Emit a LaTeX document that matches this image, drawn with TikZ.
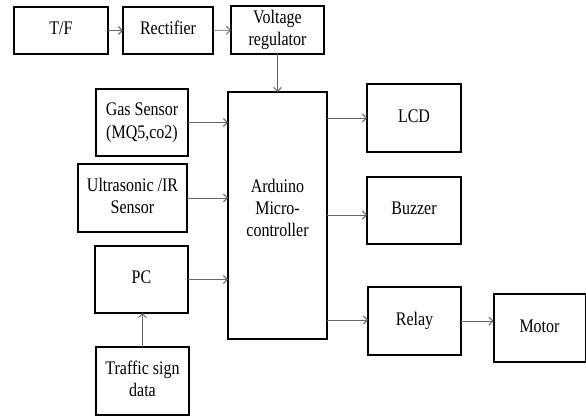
\documentclass[tikz,border=0pt]{standalone}
\usepackage{fontspec}
\newfontfamily\tms{LiberationSerif}[Extension=.ttf, UprightFont=*-Regular, BoldFont=*-Bold]
\usetikzlibrary{arrows.meta}
\newcommand\lbl[1]{\scalebox{1}[1.2]{\begin{tabular}{@{}c@{}}#1\end{tabular}}}
\tikzset{
  txt/.style={font=\tms\fontsize{16}{18.5}\selectfont},
  blk/.style={draw=black, line width=2pt, fill=white, inner sep=0pt, outer sep=0pt, txt},
  conn/.style={draw=black!60, line width=0.9pt, -{Straight Barb[length=4pt,width=8pt]}}
}
\begin{document}
\begin{tikzpicture}[x=1pt,y=1pt]
\useasboundingbox (0,0) rectangle (586,-417);
\node[blk, minimum width=94, minimum height=47] (tf) at (61,-30.5) {\lbl{T/F}};
\node[blk, minimum width=90, minimum height=47] (rect) at (168,-30.5) {\lbl{Rectifier}};
\node[blk, minimum width=93, minimum height=48] (vr) at (277.5,-30) {\lbl{Voltage\\regulator}};
\node[blk, minimum width=92, minimum height=67] (gas) at (142,-122.5) {\lbl{Gas Sensor\\(MQ5,co2)}};
\node[blk, minimum width=109, minimum height=68] (us) at (132.5,-198) {\lbl{Ultrasonic /IR\\Sensor}};
\node[blk, minimum width=93, minimum height=67] (pc) at (141.5,-279.5) {\lbl{PC}};
\node[blk, minimum width=93, minimum height=68] (td) at (142.5,-381) {\lbl{Traffic sign\\data}};
\node[blk, minimum width=99, minimum height=247] (ard) at (277.5,-215.5) {};
\node[txt] (ardt) at (277.5,-210) {\lbl{Arduino\\Micro-\\controller}};
\node[blk, minimum width=94, minimum height=68] (lcd) at (414,-118) {\lbl{LCD}};
\node[blk, minimum width=94, minimum height=67] (bz) at (414,-210.5) {\lbl{Buzzer}};
\node[blk, minimum width=93, minimum height=68] (rl) at (414.5,-321) {\lbl{Relay}};
\node[blk, minimum width=92, minimum height=68] (mt) at (539.5,-328) {\lbl{Motor}};
\draw[conn] (tf) -- (rect);
\draw[conn] (rect) -- (vr);
\draw[conn] (vr.south) -- (vr.south |- ard.north);
\draw[conn] (gas.east) -- (gas.east -| ard.west);
\draw[conn] (us.east) -- (us.east -| ard.west);
\draw[conn] (pc.east) -- (pc.east -| ard.west);
\draw[conn] (td.north) -- (td.north |- pc.south);
\draw[conn] (ard.east |- lcd.west) -- (lcd.west);
\draw[conn] ([yshift=-4.5pt]ard.east |- bz.west) -- ([yshift=-4.5pt]bz.west);
\draw[conn] ([yshift=1pt]ard.east |- rl.west) -- ([yshift=1pt]rl.west);
\draw[conn] (rl.east) -- (rl.east -| mt.west);
\end{tikzpicture}
\end{document}
